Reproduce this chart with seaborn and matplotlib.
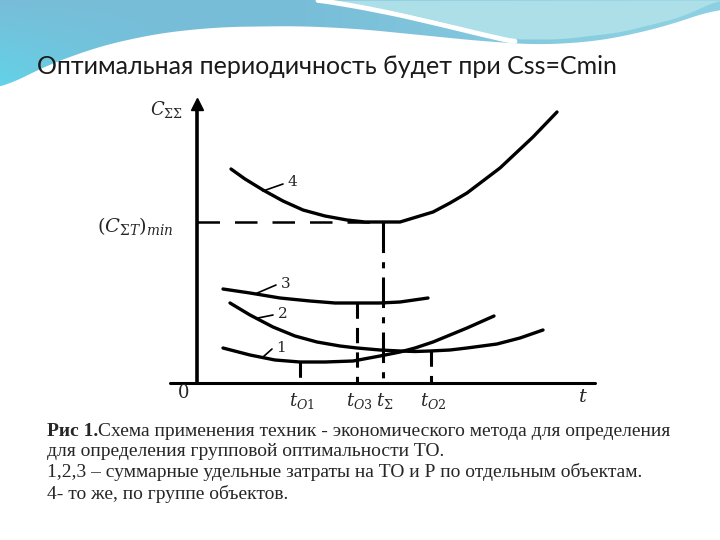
import numpy as np
import pandas as pd
import matplotlib.pyplot as plt
import seaborn as sns
from matplotlib.patches import Polygon

sns.set_theme(style='white')
plt.rcParams['font.family'] = ['DejaVu Sans']
plt.rcParams['mathtext.fontset'] = 'dejavuserif'

# ---- chart data (image pixel units of the scanned sketch) ----
curve4_x = [231, 245, 263, 283, 303, 325, 347, 365, 383, 400, 433, 450, 467, 500, 533, 557]
curve4_y = [169, 179, 190, 201, 210, 216, 220, 222, 222, 222, 212, 203, 193, 168, 137, 112]

curve3_x = [223, 250, 280, 310, 335, 360, 380, 400, 428]
curve3_y = [289, 293, 298, 301, 303, 303, 303, 302, 298]

curve2_x = [230, 250, 273, 295, 317, 340, 357, 380, 400, 415, 430, 450, 467, 497, 520, 543]
curve2_y = [303, 315, 327, 336, 342, 346, 348, 350, 351, 351.5, 351, 350, 348, 344, 338, 330]

curve1_x = [223, 250, 275, 300, 325, 353, 380, 400, 415, 433, 450, 467, 494]
curve1_y = [348, 355, 360, 362, 362, 361, 356, 352, 348, 342, 335, 328, 316]

# optimum periods (x) and the level where each drop line starts (y)
t_labels = [r'$t_{O1}$', r'$t_{O3}$', r'$t_{\Sigma}$', r'$t_{O2}$']
t_x = [300, 357, 383, 431]
t_top = [362, 303, 222, 351]
c_min = 222

curve_names = ['1', '2', '3', '4']
name_pos = [(276, 347), (277, 313), (280, 283), (287, 182)]
leader_from = [(263, 357), (258, 318), (255, 294), (263, 191)]

title = 'Оптимальная периодичность будет при Css=Cmin'
caption_bold = 'Рис 1.'
caption_lines = [
    'Схема применения техник - экономического метода для определения',
    'для определения групповой оптимальности ТО.',
    '1,2,3 – суммарные удельные затраты на ТО и Р по отдельным объектам.',
    '4- то же, по группе объектов.',
]

fig = plt.figure(figsize=(7.2, 5.4), dpi=100)
ax = fig.add_axes([0, 0, 1, 1])

# ---- slide decoration (wave header) ----
def smooth(px, py, n=200):
    xs = np.linspace(px[0], px[-1], n)
    ys = np.interp(xs, px, py)
    k = np.ones(15) / 15
    ys = np.convolve(np.pad(ys, 7, mode='edge'), k, mode='valid')
    return xs, ys

bx, by = smooth([0, 40, 100, 160, 220, 300, 360, 420, 480, 540, 600, 660, 720],
                [90, 68, 46, 33, 27, 26, 29, 35, 41, 45, 41, 28, 8])
H, W = 100, 720
gx = np.linspace(0, 1, W)[None, :]
gy = np.linspace(0, 1, H)[:, None]
left = np.array([0x5f, 0xd6, 0xea]) / 255
mid = np.array([0x78, 0xbd, 0xd8]) / 255
right = np.array([0x8c, 0xd0, 0xe2]) / 255
wl = np.clip(1 - gx * 4, 0, 1) * gy
wr = np.clip(gx * 2 - 0.8, 0, 1)
img = (wl[..., None] * left + (1 - wl[..., None]) * ((1 - wr[..., None]) * mid + wr[..., None] * right))
im = ax.imshow(img, extent=[0, 720, 100, 0], aspect='auto', zorder=0)
poly = Polygon(np.column_stack([np.r_[0, bx, 720], np.r_[0, by, 0]]), closed=True,
               transform=ax.transData, fc='none', ec='none')
ax.add_patch(poly)
im.set_clip_path(poly)

sx, sy = smooth([320, 360, 400, 443, 480, 510, 560, 620, 680, 720],
                [0, 6, 13, 23, 33, 40, 40, 33, 18, 0])
ax.fill_between(sx, 0, sy - 1, color='#acdfe8', lw=0, zorder=1)
stx, sty = smooth([318, 360, 400, 443, 480, 515], [0, 7, 15, 25, 34, 42], 120)
ax.plot(stx, sty, color='white', lw=3.5, solid_capstyle='round', zorder=2)

ax.text(37, 66, title, fontsize=18, family=['Lato', 'DejaVu Sans'],
        color='#1a1a1a', va='center', ha='left')

# ---- axes of the sketch ----
ax.plot([197, 197], [383, 108], color='black', lw=2.6)
ax.plot([197], [104], marker='^', color='black', markersize=8)
ax.plot([170, 595], [383, 383], color='black', lw=2.2)
ax.text(150, 110, r'$C_{\Sigma\Sigma}$', fontsize=13, fontweight='bold', va='center')
ax.text(97, 226, r'$(C_{\Sigma T})_{min}$', fontsize=14, fontweight='bold', va='center')
ax.text(183, 393, r'$\mathit{0}$', fontsize=13, va='center', ha='center')
ax.text(578, 396, r'$t$', fontsize=14, va='center')

# ---- curves ----
curves = pd.concat([
    pd.DataFrame({'x': curve1_x, 'y': curve1_y, 'c': '1'}),
    pd.DataFrame({'x': curve2_x, 'y': curve2_y, 'c': '2'}),
    pd.DataFrame({'x': curve3_x, 'y': curve3_y, 'c': '3'}),
    pd.DataFrame({'x': curve4_x, 'y': curve4_y, 'c': '4'}),
])
sns.lineplot(data=curves, x='x', y='y', units='c', estimator=None, sort=False,
             color='black', lw=2.4, ax=ax, legend=False)

# min level and optimum drop lines
ax.plot([197, t_x[2]], [c_min, c_min], color='black', lw=1.8, dashes=(9, 6))
for i, (tx, top, lab) in enumerate(zip(t_x, t_top, t_labels)):
    if i == 2:
        ax.plot([tx, tx], [top, 383], color='black', lw=2.2, dashes=(10, 3, 2, 3))
    else:
        ax.plot([tx, tx], [top, 383], color='black', lw=2.2, dashes=(5, 3))
    ax.text(tx + 2, 401, lab, fontsize=13, ha='center', va='center')

for name, (nx, ny), (lx, ly) in zip(curve_names, name_pos, leader_from):
    ax.plot([lx, nx - 4], [ly, ny + 2], color='black', lw=1.2)
    ax.text(nx, ny, r'$\mathit{' + name + '}$', fontsize=11, ha='left', va='center')

# ---- caption ----
cap_font = ['Liberation Serif', 'DejaVu Serif']
cap_y = [431, 452, 472, 494]
ax.text(47, cap_y[0], caption_bold, fontsize=14, family=cap_font,
        fontweight='bold', va='center')
ax.text(98, cap_y[0], caption_lines[0], fontsize=14, family=cap_font, va='center')
for yy, line in zip(cap_y[1:], caption_lines[1:]):
    ax.text(47, yy, line, fontsize=14, family=cap_font, va='center')

ax.set_xlim(0, 720)
ax.set_ylim(540, 0)
ax.axis('off')
fig.savefig('out.png', dpi=100)
